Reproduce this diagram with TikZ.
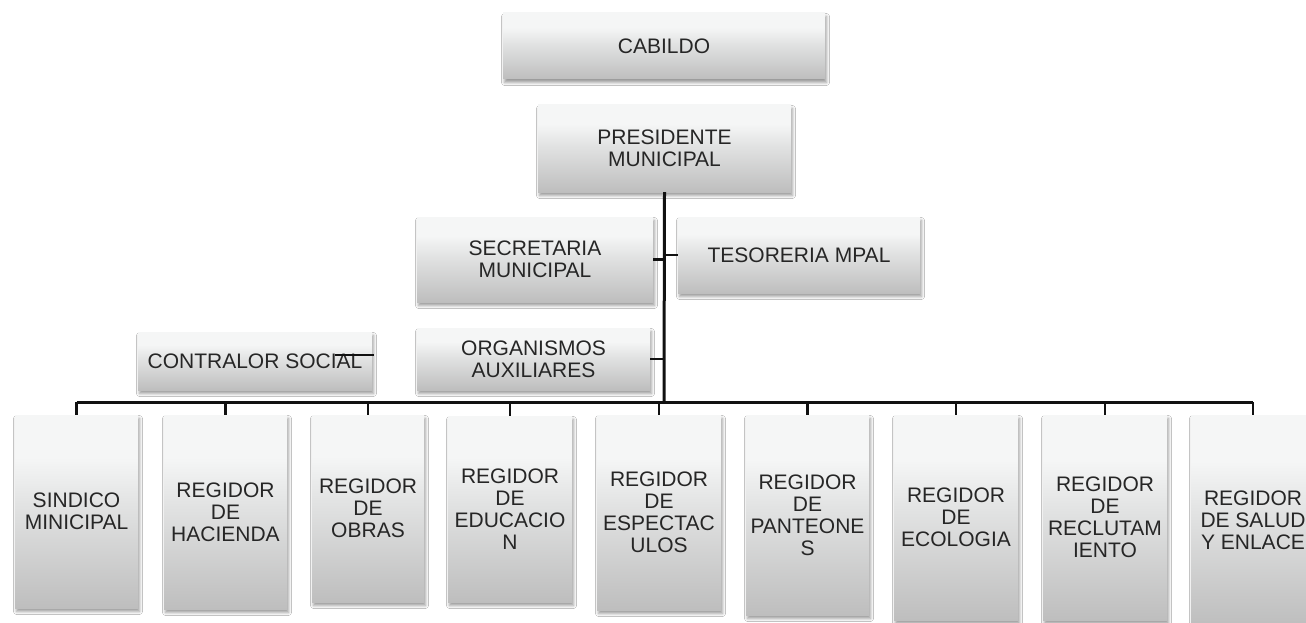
\documentclass[tikz,border=0pt]{standalone}
\usepackage{fontspec}
\setmainfont{Liberation Sans}
\usetikzlibrary{shadows.blur}
\definecolor{boxtop}{HTML}{F5F6F6}
\definecolor{boxmid}{HTML}{E2E3E3}
\definecolor{boxbot}{HTML}{BEBEBE}
\definecolor{txt}{HTML}{262626}
\definecolor{ln}{HTML}{111111}
\pgfdeclareverticalshading{boxshade}{100bp}{color(0bp)=(boxbot); color(25bp)=(boxbot); color(52bp)=(boxmid); color(64bp)=(boxtop); color(75bp)=(boxtop); color(100bp)=(boxtop)}
\tikzset{
  orgbox/.style={rectangle, draw=none, inner sep=0pt, align=center,
    shading=boxshade,
    text=txt, font=\fontsize{21}{22}\selectfont,
    blur shadow={shadow xshift=1.5pt, shadow yshift=-3.5pt, shadow blur radius=3pt, shadow opacity=40}},
  trunkline/.style={draw=ln, line width=3pt},
  tickline/.style={draw=ln, line width=2.2pt},
}
\begin{document}
\begin{tikzpicture}[x=1pt,y=-1pt]
\useasboundingbox (0,0) rectangle (1306,623);
\fill[white] (0,0) rectangle (1306,623);
% top
\node[orgbox, minimum width=322pt, minimum height=66pt] (cab) at (664,46) {CABILDO};
\node[orgbox, minimum width=253pt, minimum height=87pt] (pres) at (664.5,148.5) {PRESIDENTE\\MUNICIPAL};
\node[orgbox, minimum width=236pt, minimum height=85pt] (sec) at (535,259.5) {SECRETARIA\\MUNICIPAL};
\node[orgbox, minimum width=242pt, minimum height=76pt] (tes) at (799,255) {TESORERIA MPAL};
\node[orgbox, minimum width=233pt, minimum height=62pt] (org) at (533.5,359) {ORGANISMOS\\AUXILIARES};
\node[orgbox, minimum width=234pt, minimum height=58pt] (con) at (255,361) {CONTRALOR SOCIAL};
% bottom row
\node[orgbox, minimum width=123pt, minimum height=193pt] (b1) at (76.5,511.5) {SINDICO\\MINICIPAL};
\node[orgbox, minimum width=123pt, minimum height=194pt] (b2) at (225.5,512) {REGIDOR\\DE\\HACIENDA};
\node[orgbox, minimum width=112pt, minimum height=187pt] (b3) at (368,508.5) {REGIDOR\\DE\\OBRAS};
\node[orgbox, minimum width=124pt, minimum height=186pt] (b4) at (510,509) {REGIDOR\\DE\\EDUCACIO\\N};
\node[orgbox, minimum width=124pt, minimum height=195pt] (b5) at (659,512.5) {REGIDOR\\DE\\ESPECTAC\\ULOS};
\node[orgbox, minimum width=123pt, minimum height=200pt] (b6) at (807.5,515) {REGIDOR\\DE\\PANTEONE\\S};
\node[orgbox, minimum width=124pt, minimum height=205pt] (b7) at (956,517.5) {REGIDOR\\DE\\ECOLOGIA};
\node[orgbox, minimum width=124pt, minimum height=205pt] (b8) at (1105,517.5) {REGIDOR\\DE\\RECLUTAM\\IENTO};
\node[orgbox, minimum width=124pt, minimum height=210pt] (b9) at (1253,520) {REGIDOR\\DE SALUD\\Y ENLACE};
% connectors
\coordinate (busc) at (664,402);
\draw[trunkline] (pres.south) -- (busc);
\draw[trunkline] (b1.north |- busc) -- (b9.north |- busc);
\foreach \b in {b1,b2,b3,b4,b5,b6,b7,b8,b9}
  \draw[tickline] (\b.north |- busc) -- (\b.north);
\draw[tickline] (sec.east) -- (sec.east -| busc);
\draw[tickline] (tes.west) -- (tes.west -| busc);
\draw[tickline] (org.east) -- (org.east -| busc);
\coordinate (cs1) at (335,355);
\coordinate (cs2) at (374,355);
\draw[tickline] (cs1) -- (cs2);
\end{tikzpicture}
\end{document}
